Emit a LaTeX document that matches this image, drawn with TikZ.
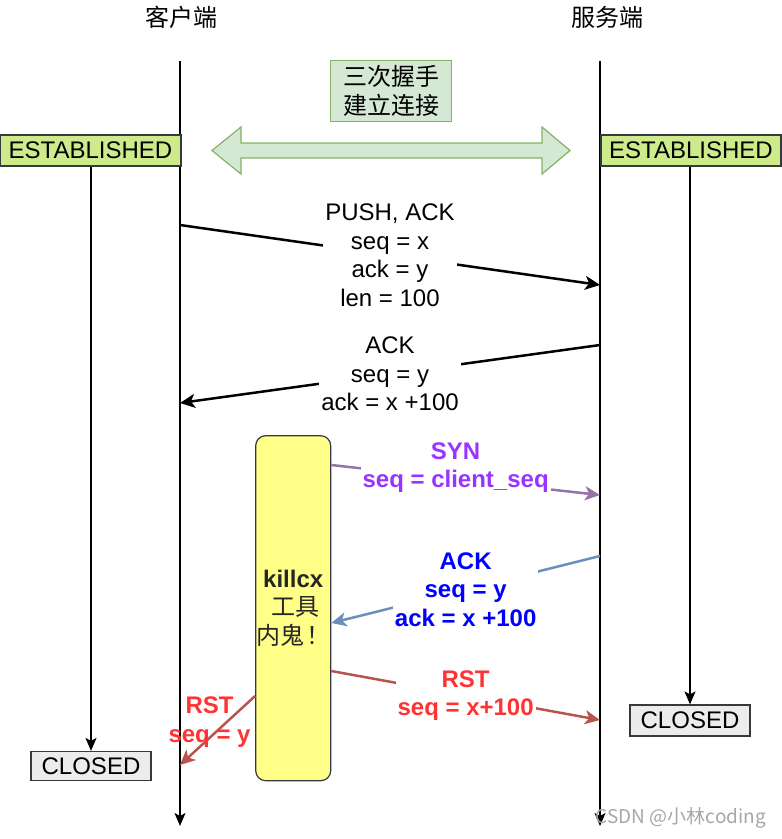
\documentclass[tikz,border=0pt]{standalone}
\usepackage{fontspec}
\setmainfont{Liberation Sans}
\newfontfamily\cjk{Noto Sans CJK SC}
\usepackage{xcolor}
\usetikzlibrary{arrows.meta,positioning,calc}

\definecolor{estfill}{HTML}{CDEB8B}
\definecolor{boxline}{HTML}{36393D}
\definecolor{hsfill}{HTML}{D5E8D4}
\definecolor{hsline}{HTML}{82B366}
\definecolor{killfill}{HTML}{FFFF88}
\definecolor{synline}{HTML}{9673A6}
\definecolor{syntext}{HTML}{9933FF}
\definecolor{ackline}{HTML}{6C8EBF}
\definecolor{acktext}{HTML}{0000FF}
\definecolor{rstline}{HTML}{B85450}
\definecolor{rsttext}{HTML}{FF3333}
\newcommand{\bigfont}{\fontsize{24}{28.5}\selectfont}

\begin{document}
\begin{tikzpicture}[
  x=1pt, y=-1pt,
  every node/.append style={font=\bigfont},
  state/.style={draw=boxline, line width=1.2pt, inner sep=0pt, minimum height=31pt},
  arr/.style={-{Stealth[length=13pt,width=11pt,inset=3pt]}, line width=1.2pt},
  msg/.style={-{Stealth[length=15pt,width=14pt,inset=4pt]}, line width=2.5pt},
  lab/.style={fill=white, inner sep=2pt, align=center},
  hot/.style={inner sep=2pt, align=center, font=\bigfont\bfseries}
]
\useasboundingbox (0,0) rectangle (782,839);

% lifelines
\node (cname) at (181,17) {\cjk 客户端};
\node (sname) at (607,17) {\cjk 服务端};
\coordinate (cli) at (180,61);
\coordinate (srv) at (600,61);
\draw[arr] (cli) -- (cli |- 0,826);
\draw[arr] (srv) -- (srv |- 0,826);

% handshake
\node[draw=hsline, fill=hsfill, line width=1.2pt, minimum width=121pt, minimum height=61pt, align=center] (hs) at (391,91) {\cjk 三次握手\\\cjk 建立连接};
\filldraw[fill=hsfill, draw=hsline, line width=1.2pt]
  (212,150.5) -- (241,127) -- (241,143) -- (542,143) -- (542,127) -- (570,150.5)
  -- (542,174) -- (542,158) -- (241,158) -- (241,174) -- cycle;

% states
\node[state, fill=estfill, minimum width=181pt] (estL) at (90.5,150.5) {ESTABLISHED};
\node[state, fill=estfill, minimum width=180pt] (estR) at (691,150.5) {ESTABLISHED};
\node[state, fill=gray!15, minimum width=120pt, minimum height=29pt] (closedL) at (91,766) {CLOSED};
\node[state, fill=gray!15, minimum width=120pt] (closedR) at (690,720.5) {CLOSED};
\draw[arr] (closedL.north |- estL.south) -- (closedL.north);
\draw[arr] (closedR.north |- estR.south) -- (closedR.north);

% data and ack
\draw[msg] (cli |- 0,225) -- node[lab] {PUSH, ACK\\seq = x\\ack = y\\len = 100} (srv |- 0,285);
\draw[msg] (srv |- 0,345) -- node[lab] {ACK\\seq = y\\ack = x +100} (cli |- 0,403);

% killcx
\node[draw=boxline, fill=killfill, line width=1.2pt, rounded corners=10pt, inner xsep=0pt, minimum width=75pt, minimum height=345pt, align=center, text=black!85] (kill) at (293.2,608.2) {\textbf{killcx}\\\cjk\ 工具\\\cjk 内鬼\hspace{2pt}！};

\draw[msg, synline] (kill.east |- 0,465) -- node[hot, fill=white, text=syntext, xshift=-10pt, yshift=12.5pt] {SYN\\seq = client\_seq} (srv |- 0,495);
\draw[msg, ackline] (srv |- 0,556) -- node[hot, fill=white, text=acktext] {ACK\\seq = y\\ack = x +100} (kill.east |- 0,623);
\draw[msg, rstline] (kill.east |- 0,671) -- node[hot, fill=white, text=rsttext] {RST\\seq = x+100} (srv |- 0,720);
\draw[msg, rstline] (kill.west |- 0,696) -- node[hot, text=rsttext, xshift=-8pt, yshift=8.5pt] {RST\\seq = y} (cli |- 0,765);

\node[text=gray!70, font=\cjk\fontsize{19}{22}\selectfont] (mark) at (681,818) {CSDN @小林coding};
\end{tikzpicture}
\end{document}
